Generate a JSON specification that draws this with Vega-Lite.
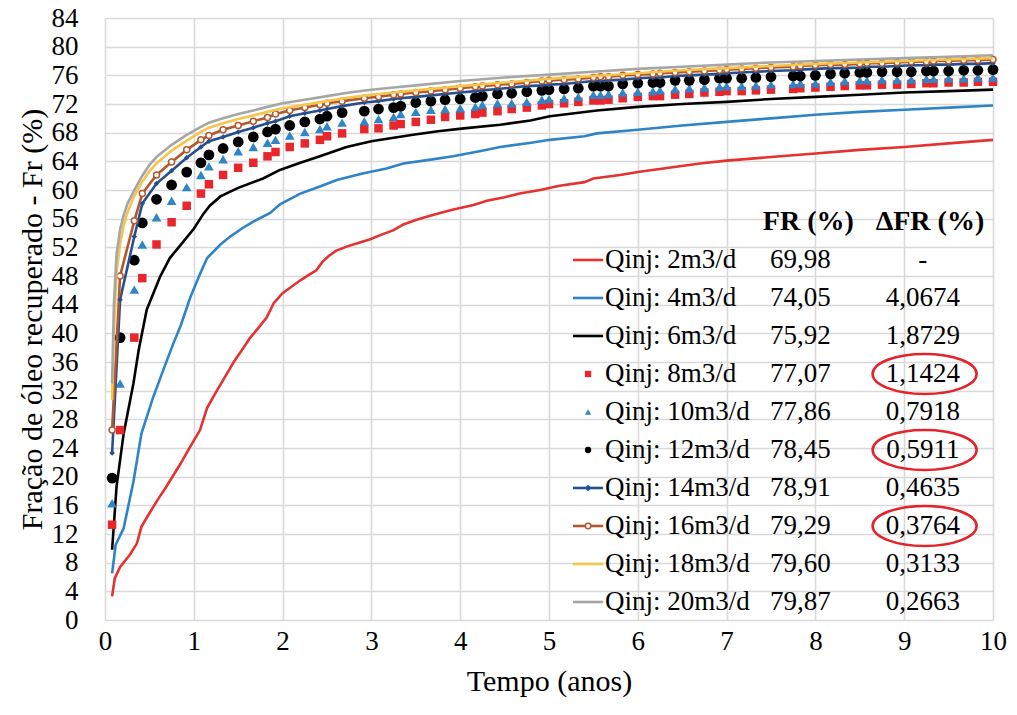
{
  "$schema": "https://vega.github.io/schema/vega-lite/v6.json",
  "width": 888,
  "height": 602,
  "autosize": {"type": "none"},
  "padding": {"left": 105, "top": 18, "right": 24, "bottom": 95},
  "background": "white",
  "config": {
    "font": "Liberation Serif, Times New Roman, DejaVu Serif, serif",
    "view": {"stroke": null},
    "text": {"font": "Liberation Serif, Times New Roman, DejaVu Serif, serif"},
    "axis": {
      "labelFont": "Liberation Serif, Times New Roman, DejaVu Serif, serif",
      "titleFont": "Liberation Serif, Times New Roman, DejaVu Serif, serif",
      "labelFontSize": 27,
      "titleFontSize": 30,
      "titleFontWeight": "normal",
      "labelColor": "#000000",
      "titleColor": "#000000",
      "domain": false,
      "ticks": false,
      "grid": true,
      "gridColor": "#d9d9d9",
      "gridWidth": 1.6,
      "labelFlush": false,
      "labelOverlap": false,
      "labelBound": false
    }
  },
  "datasets": {
    "lines": [
      {"s":"q2","t":0.08,"v":3.3},{"s":"q2","t":0.11,"v":5.8},{"s":"q2","t":0.17,"v":7.4},{"s":"q2","t":0.28,"v":9.1},{"s":"q2","t":0.36,"v":10.7},{"s":"q2","t":0.41,"v":13.0},{"s":"q2","t":0.51,"v":15.1},{"s":"q2","t":0.6,"v":16.9},{"s":"q2","t":0.69,"v":18.6},{"s":"q2","t":0.85,"v":21.8},{"s":"q2","t":0.96,"v":24.2},{"s":"q2","t":1.07,"v":26.5},{"s":"q2","t":1.15,"v":29.6},{"s":"q2","t":1.25,"v":31.8},{"s":"q2","t":1.35,"v":33.9},{"s":"q2","t":1.45,"v":36.0},{"s":"q2","t":1.55,"v":37.8},{"s":"q2","t":1.63,"v":39.3},{"s":"q2","t":1.73,"v":40.8},{"s":"q2","t":1.82,"v":42.2},{"s":"q2","t":1.9,"v":44.2},{"s":"q2","t":2.0,"v":45.6},{"s":"q2","t":2.1,"v":46.5},{"s":"q2","t":2.2,"v":47.4},{"s":"q2","t":2.3,"v":48.2},{"s":"q2","t":2.38,"v":48.8},{"s":"q2","t":2.45,"v":50.0},{"s":"q2","t":2.52,"v":50.8},{"s":"q2","t":2.6,"v":51.5},{"s":"q2","t":2.72,"v":52.1},{"s":"q2","t":2.85,"v":52.6},{"s":"q2","t":2.98,"v":53.1},{"s":"q2","t":3.1,"v":53.7},{"s":"q2","t":3.25,"v":54.4},{"s":"q2","t":3.36,"v":55.2},{"s":"q2","t":3.5,"v":55.8},{"s":"q2","t":3.66,"v":56.4},{"s":"q2","t":3.9,"v":57.2},{"s":"q2","t":4.15,"v":57.9},{"s":"q2","t":4.3,"v":58.5},{"s":"q2","t":4.5,"v":59.0},{"s":"q2","t":4.67,"v":59.5},{"s":"q2","t":4.9,"v":60.0},{"s":"q2","t":5.12,"v":60.6},{"s":"q2","t":5.4,"v":61.1},{"s":"q2","t":5.5,"v":61.6},{"s":"q2","t":5.8,"v":62.1},{"s":"q2","t":6.0,"v":62.5},{"s":"q2","t":6.35,"v":63.1},{"s":"q2","t":6.7,"v":63.7},{"s":"q2","t":7.0,"v":64.1},{"s":"q2","t":7.5,"v":64.6},{"s":"q2","t":8.0,"v":65.1},{"s":"q2","t":8.5,"v":65.6},{"s":"q2","t":9.0,"v":66.0},{"s":"q2","t":9.5,"v":66.5},{"s":"q2","t":10.0,"v":67.0},
      {"s":"q4","t":0.08,"v":6.5},{"s":"q4","t":0.12,"v":10.5},{"s":"q4","t":0.21,"v":12.8},{"s":"q4","t":0.32,"v":19.3},{"s":"q4","t":0.41,"v":26.0},{"s":"q4","t":0.54,"v":31.0},{"s":"q4","t":0.66,"v":35.0},{"s":"q4","t":0.77,"v":38.6},{"s":"q4","t":0.85,"v":41.0},{"s":"q4","t":0.96,"v":45.0},{"s":"q4","t":1.06,"v":48.0},{"s":"q4","t":1.15,"v":50.5},{"s":"q4","t":1.3,"v":52.4},{"s":"q4","t":1.41,"v":53.5},{"s":"q4","t":1.55,"v":54.7},{"s":"q4","t":1.67,"v":55.6},{"s":"q4","t":1.86,"v":56.8},{"s":"q4","t":1.97,"v":58.0},{"s":"q4","t":2.2,"v":59.5},{"s":"q4","t":2.42,"v":60.5},{"s":"q4","t":2.61,"v":61.4},{"s":"q4","t":2.9,"v":62.3},{"s":"q4","t":3.17,"v":63.0},{"s":"q4","t":3.36,"v":63.7},{"s":"q4","t":3.65,"v":64.2},{"s":"q4","t":3.92,"v":64.7},{"s":"q4","t":4.26,"v":65.5},{"s":"q4","t":4.45,"v":66.0},{"s":"q4","t":4.8,"v":66.6},{"s":"q4","t":5.01,"v":67.0},{"s":"q4","t":5.4,"v":67.5},{"s":"q4","t":5.54,"v":67.9},{"s":"q4","t":6.0,"v":68.4},{"s":"q4","t":6.5,"v":69.0},{"s":"q4","t":7.0,"v":69.5},{"s":"q4","t":7.5,"v":70.0},{"s":"q4","t":8.0,"v":70.5},{"s":"q4","t":8.5,"v":70.9},{"s":"q4","t":9.0,"v":71.2},{"s":"q4","t":9.5,"v":71.5},{"s":"q4","t":10.0,"v":71.8},
      {"s":"q6","t":0.08,"v":9.8},{"s":"q6","t":0.13,"v":18.6},{"s":"q6","t":0.21,"v":26.0},{"s":"q6","t":0.32,"v":33.0},{"s":"q6","t":0.38,"v":37.7},{"s":"q6","t":0.47,"v":43.3},{"s":"q6","t":0.62,"v":47.9},{"s":"q6","t":0.73,"v":50.5},{"s":"q6","t":0.85,"v":52.3},{"s":"q6","t":1.0,"v":54.6},{"s":"q6","t":1.11,"v":56.7},{"s":"q6","t":1.18,"v":57.8},{"s":"q6","t":1.3,"v":59.1},{"s":"q6","t":1.5,"v":60.3},{"s":"q6","t":1.78,"v":61.6},{"s":"q6","t":1.97,"v":62.8},{"s":"q6","t":2.2,"v":63.8},{"s":"q6","t":2.42,"v":64.7},{"s":"q6","t":2.72,"v":66.0},{"s":"q6","t":3.0,"v":66.8},{"s":"q6","t":3.25,"v":67.3},{"s":"q6","t":3.47,"v":67.7},{"s":"q6","t":3.75,"v":68.2},{"s":"q6","t":4.04,"v":68.6},{"s":"q6","t":4.45,"v":69.1},{"s":"q6","t":4.79,"v":69.7},{"s":"q6","t":5.01,"v":70.3},{"s":"q6","t":5.54,"v":71.1},{"s":"q6","t":6.0,"v":71.6},{"s":"q6","t":6.5,"v":72.0},{"s":"q6","t":7.0,"v":72.3},{"s":"q6","t":7.5,"v":72.7},{"s":"q6","t":8.0,"v":73.0},{"s":"q6","t":8.5,"v":73.3},{"s":"q6","t":9.0,"v":73.6},{"s":"q6","t":9.5,"v":73.8},{"s":"q6","t":10.0,"v":74.0},
      {"s":"q18","t":0.08,"v":30.7},{"s":"q18","t":0.1,"v":40.0},{"s":"q18","t":0.13,"v":48.5},{"s":"q18","t":0.17,"v":52.5},{"s":"q18","t":0.21,"v":55.0},{"s":"q18","t":0.25,"v":56.8},{"s":"q18","t":0.33,"v":59.2},{"s":"q18","t":0.42,"v":61.2},{"s":"q18","t":0.5,"v":62.6},{"s":"q18","t":0.58,"v":63.7},{"s":"q18","t":0.75,"v":65.5},{"s":"q18","t":0.92,"v":66.9},{"s":"q18","t":1.08,"v":68.1},{"s":"q18","t":1.17,"v":68.7},{"s":"q18","t":1.33,"v":69.3},{"s":"q18","t":1.5,"v":69.9},{"s":"q18","t":1.67,"v":70.4},{"s":"q18","t":1.83,"v":70.9},{"s":"q18","t":2.0,"v":71.4},{"s":"q18","t":2.25,"v":71.9},{"s":"q18","t":2.5,"v":72.4},{"s":"q18","t":2.75,"v":72.9},{"s":"q18","t":3.0,"v":73.3},{"s":"q18","t":3.25,"v":73.6},{"s":"q18","t":3.5,"v":73.9},{"s":"q18","t":4.0,"v":74.5},{"s":"q18","t":4.5,"v":75.0},{"s":"q18","t":5.0,"v":75.5},{"s":"q18","t":5.5,"v":75.9},{"s":"q18","t":6.0,"v":76.3},{"s":"q18","t":6.5,"v":76.7},{"s":"q18","t":7.0,"v":77.0},{"s":"q18","t":7.5,"v":77.3},{"s":"q18","t":8.0,"v":77.6},{"s":"q18","t":8.5,"v":77.8},{"s":"q18","t":9.0,"v":78.0},{"s":"q18","t":9.5,"v":78.2},{"s":"q18","t":10.0,"v":78.4},
      {"s":"q20","t":0.08,"v":33.0},{"s":"q20","t":0.1,"v":44.0},{"s":"q20","t":0.13,"v":51.0},{"s":"q20","t":0.17,"v":54.5},{"s":"q20","t":0.21,"v":56.5},{"s":"q20","t":0.25,"v":58.0},{"s":"q20","t":0.33,"v":60.0},{"s":"q20","t":0.42,"v":62.0},{"s":"q20","t":0.5,"v":63.5},{"s":"q20","t":0.58,"v":64.6},{"s":"q20","t":0.75,"v":66.3},{"s":"q20","t":0.92,"v":67.7},{"s":"q20","t":1.08,"v":68.8},{"s":"q20","t":1.17,"v":69.4},{"s":"q20","t":1.33,"v":70.0},{"s":"q20","t":1.5,"v":70.6},{"s":"q20","t":1.67,"v":71.1},{"s":"q20","t":1.83,"v":71.6},{"s":"q20","t":2.0,"v":72.1},{"s":"q20","t":2.25,"v":72.6},{"s":"q20","t":2.5,"v":73.1},{"s":"q20","t":2.75,"v":73.6},{"s":"q20","t":3.0,"v":74.0},{"s":"q20","t":3.25,"v":74.3},{"s":"q20","t":3.5,"v":74.6},{"s":"q20","t":4.0,"v":75.2},{"s":"q20","t":4.5,"v":75.7},{"s":"q20","t":5.0,"v":76.1},{"s":"q20","t":5.5,"v":76.5},{"s":"q20","t":6.0,"v":76.9},{"s":"q20","t":6.5,"v":77.2},{"s":"q20","t":7.0,"v":77.5},{"s":"q20","t":7.5,"v":77.8},{"s":"q20","t":8.0,"v":78.0},{"s":"q20","t":8.5,"v":78.2},{"s":"q20","t":9.0,"v":78.4},{"s":"q20","t":9.5,"v":78.6},{"s":"q20","t":10.0,"v":78.8}
    ],
    "mk": [
      {"t":0.08,"q8":13.3,"q10":16.3,"q12":19.8,"q14":23.3,"q16":26.5},
      {"t":0.17,"q8":26.5,"q10":33.0,"q12":39.4,"q14":44.7,"q16":48.0},
      {"t":0.33,"q8":39.4,"q10":46.1,"q12":50.2,"q14":53.5,"q16":55.7},
      {"t":0.42,"q8":47.7,"q10":52.4,"q12":55.4,"q14":58.1,"q16":59.5},
      {"t":0.58,"q8":52.4,"q10":56.2,"q12":58.7,"q14":60.9,"q16":62.1},
      {"t":0.75,"q8":55.5,"q10":58.5,"q12":60.7,"q14":62.7,"q16":63.9},
      {"t":0.92,"q8":57.8,"q10":60.4,"q12":62.5,"q14":64.5,"q16":65.6},
      {"t":1.08,"q8":59.5,"q10":62.1,"q12":63.8,"q14":66.0,"q16":67.0},
      {"t":1.17,"q8":60.8,"q10":63.3,"q12":64.9,"q14":66.8,"q16":67.6},
      {"t":1.33,"q8":62.1,"q10":64.3,"q12":65.8,"q14":67.4,"q16":68.4},
      {"t":1.5,"q8":63.1,"q10":65.4,"q12":66.7,"q14":68.1,"q16":69.0},
      {"t":1.67,"q8":63.8,"q10":66.0,"q12":67.4,"q14":68.7,"q16":69.6},
      {"t":1.83,"q8":64.7,"q10":66.6,"q12":68.1,"q14":69.3,"q16":70.1},
      {"t":1.92,"q8":65.3,"q10":67.0,"q12":68.5,"q14":69.6,"q16":70.6},
      {"t":2.08,"q8":66.0,"q10":67.6,"q12":69.0,"q14":70.3,"q16":71.1},
      {"t":2.25,"q8":66.5,"q10":68.1,"q12":69.5,"q14":70.7,"q16":71.5},
      {"t":2.42,"q8":67.0,"q10":68.5,"q12":69.9,"q14":71.1,"q16":71.9},
      {"t":2.5,"q8":67.5,"q10":68.9,"q12":70.3,"q14":71.3,"q16":72.1},
      {"t":2.67,"q8":67.9,"q10":69.4,"q12":70.8,"q14":71.7,"q16":72.4},
      {"t":2.92,"q8":68.5,"q10":69.6,"q12":71.0,"q14":72.2,"q16":72.8},
      {"t":3.08,"q8":68.6,"q10":69.9,"q12":71.3,"q14":72.4,"q16":73.0},
      {"t":3.25,"q8":69.0,"q10":70.2,"q12":71.5,"q14":72.7,"q16":73.3},
      {"t":3.33,"q8":69.2,"q10":70.6,"q12":71.7,"q14":72.8,"q16":73.4},
      {"t":3.5,"q8":69.5,"q10":70.9,"q12":72.2,"q14":73.0,"q16":73.6},
      {"t":3.67,"q8":69.8,"q10":71.2,"q12":72.4,"q14":73.2,"q16":73.8},
      {"t":3.83,"q8":70.2,"q10":71.3,"q12":72.6,"q14":73.4,"q16":74.0},
      {"t":4.0,"q8":70.4,"q10":71.4,"q12":72.7,"q14":73.6,"q16":74.2},
      {"t":4.17,"q8":70.6,"q10":71.6,"q12":72.9,"q14":73.8,"q16":74.4},
      {"t":4.25,"q8":70.8,"q10":71.9,"q12":73.1,"q14":73.9,"q16":74.5},
      {"t":4.42,"q8":71.0,"q10":72.1,"q12":73.4,"q14":74.1,"q16":74.7},
      {"t":4.58,"q8":71.3,"q10":72.1,"q12":73.5,"q14":74.3,"q16":74.8},
      {"t":4.75,"q8":71.5,"q10":72.3,"q12":73.7,"q14":74.5,"q16":75.0},
      {"t":4.92,"q8":71.8,"q10":72.6,"q12":73.9,"q14":74.6,"q16":75.2},
      {"t":5.0,"q8":72.0,"q10":72.7,"q12":74.0,"q14":74.7,"q16":75.3},
      {"t":5.17,"q8":72.1,"q10":72.8,"q12":74.1,"q14":74.8,"q16":75.4},
      {"t":5.33,"q8":72.3,"q10":73.0,"q12":74.2,"q14":75.0,"q16":75.5},
      {"t":5.5,"q8":72.5,"q10":73.3,"q12":74.5,"q14":75.2,"q16":75.7},
      {"t":5.58,"q8":72.5,"q10":73.3,"q12":74.5,"q14":75.2,"q16":75.8},
      {"t":5.67,"q8":72.6,"q10":73.4,"q12":74.5,"q14":75.3,"q16":75.8},
      {"t":5.83,"q8":72.8,"q10":73.6,"q12":74.8,"q14":75.4,"q16":76.0},
      {"t":6.0,"q8":73.0,"q10":73.7,"q12":74.9,"q14":75.6,"q16":76.1},
      {"t":6.17,"q8":73.1,"q10":73.8,"q12":75.0,"q14":75.7,"q16":76.2},
      {"t":6.25,"q8":73.1,"q10":73.9,"q12":75.0,"q14":75.7,"q16":76.3},
      {"t":6.42,"q8":73.3,"q10":74.1,"q12":75.3,"q14":75.9,"q16":76.4},
      {"t":6.58,"q8":73.4,"q10":74.2,"q12":75.3,"q14":76.0,"q16":76.5},
      {"t":6.75,"q8":73.6,"q10":74.3,"q12":75.4,"q14":76.1,"q16":76.6},
      {"t":6.92,"q8":73.7,"q10":74.4,"q12":75.6,"q14":76.2,"q16":76.7},
      {"t":7.0,"q8":73.8,"q10":74.5,"q12":75.6,"q14":76.3,"q16":76.8},
      {"t":7.17,"q8":73.8,"q10":74.5,"q12":75.6,"q14":76.4,"q16":76.9},
      {"t":7.33,"q8":73.9,"q10":74.6,"q12":75.7,"q14":76.5,"q16":77.0},
      {"t":7.5,"q8":74.0,"q10":74.7,"q12":75.8,"q14":76.6,"q16":77.1},
      {"t":7.75,"q8":74.1,"q10":74.8,"q12":75.9,"q14":76.7,"q16":77.2},
      {"t":7.83,"q8":74.2,"q10":74.9,"q12":75.9,"q14":76.8,"q16":77.3},
      {"t":8.0,"q8":74.3,"q10":74.9,"q12":76.0,"q14":76.9,"q16":77.4},
      {"t":8.17,"q8":74.4,"q10":75.1,"q12":76.2,"q14":77.0,"q16":77.5},
      {"t":8.33,"q8":74.5,"q10":75.2,"q12":76.3,"q14":77.0,"q16":77.5},
      {"t":8.5,"q8":74.6,"q10":75.3,"q12":76.4,"q14":77.1,"q16":77.6},
      {"t":8.58,"q8":74.6,"q10":75.3,"q12":76.4,"q14":77.2,"q16":77.7},
      {"t":8.75,"q8":74.7,"q10":75.4,"q12":76.5,"q14":77.2,"q16":77.7},
      {"t":8.92,"q8":74.7,"q10":75.4,"q12":76.5,"q14":77.3,"q16":77.8},
      {"t":9.08,"q8":74.8,"q10":75.4,"q12":76.5,"q14":77.4,"q16":77.9},
      {"t":9.25,"q8":74.9,"q10":75.5,"q12":76.6,"q14":77.4,"q16":77.9},
      {"t":9.33,"q8":74.9,"q10":75.5,"q12":76.6,"q14":77.5,"q16":78.0},
      {"t":9.5,"q8":75.0,"q10":75.6,"q12":76.6,"q14":77.5,"q16":78.0},
      {"t":9.67,"q8":75.0,"q10":75.6,"q12":76.7,"q14":77.6,"q16":78.1},
      {"t":9.83,"q8":75.1,"q10":75.7,"q12":76.7,"q14":77.6,"q16":78.1},
      {"t":10.0,"q8":75.1,"q10":75.7,"q12":76.8,"q14":77.7,"q16":78.2}
    ],
    "leg": [
      {"row":1,"s":"q2","label":"Qinj: 2m3/d","fr":"69,98","dfr":"-"},
      {"row":2,"s":"q4","label":"Qinj: 4m3/d","fr":"74,05","dfr":"4,0674"},
      {"row":3,"s":"q6","label":"Qinj: 6m3/d","fr":"75,92","dfr":"1,8729"},
      {"row":4,"s":"q8","label":"Qinj: 8m3/d","fr":"77,07","dfr":"1,1424"},
      {"row":5,"s":"q10","label":"Qinj: 10m3/d","fr":"77,86","dfr":"0,7918"},
      {"row":6,"s":"q12","label":"Qinj: 12m3/d","fr":"78,45","dfr":"0,5911"},
      {"row":7,"s":"q14","label":"Qinj: 14m3/d","fr":"78,91","dfr":"0,4635"},
      {"row":8,"s":"q16","label":"Qinj: 16m3/d","fr":"79,29","dfr":"0,3764"},
      {"row":9,"s":"q18","label":"Qinj: 18m3/d","fr":"79,60","dfr":"0,3133"},
      {"row":10,"s":"q20","label":"Qinj: 20m3/d","fr":"79,87","dfr":"0,2663"}
    ]
  },
  "resolve": {"scale": {"y": "independent"}},
  "layer": [
    {
      "encoding": {
        "x": {"field": "t", "type": "quantitative",
              "scale": {"domain": [0, 10], "nice": false, "zero": false},
              "axis": {"values": [0,1,2,3,4,5,6,7,8,9,10], "format": "d", "title": "Tempo (anos)", "labelPadding": 8, "titlePadding": 12}},
        "y": {"field": "v", "type": "quantitative",
              "scale": {"domain": [0, 84], "nice": false},
              "axis": {"values": [0,4,8,12,16,20,24,28,32,36,40,44,48,52,56,60,64,68,72,76,80,84], "format": "d", "title": "Fração de óleo recuperado - Fr (%)", "labelPadding": 27, "titlePadding": 4}}
      },
      "layer": [
        {
          "data": {"values": [{}]},
          "mark": {"type": "rect", "fill": "#ffffff", "stroke": "#d9d9d9", "strokeWidth": 1.5},
          "encoding": {
            "x": {"datum": 5.12, "type": "quantitative"},
            "x2": {"datum": 10},
            "y": {"datum": 0, "type": "quantitative"},
            "y2": {"datum": 60}
          }
        },
        {
          "data": {"name": "lines"},
          "transform": [{"filter": {"field": "s", "oneOf": ["q2", "q4", "q6"]}}],
          "mark": {"type": "line", "strokeWidth": 2.6},
          "encoding": {
            "color": {"field": "s", "type": "nominal", "legend": null,
              "scale": {"domain": ["q2","q4","q6","q8","q10","q12","q14","q16","q18","q20"], "range": ["#e5312f","#2e84c6","#000000","#e8262b","#2e86c8","#000000","#24508f","#b4572c","#f4c54a","#a6a6a6"]}}
          }
        },
        {
          "data": {"name": "mk"},
          "transform": [{"fold": ["q8", "q10", "q12"], "as": ["s", "v"]}],
          "mark": {"type": "point", "filled": true, "opacity": 1},
          "encoding": {
            "color": {"field": "s", "type": "nominal", "legend": null,
              "scale": {"domain": ["q2","q4","q6","q8","q10","q12","q14","q16","q18","q20"], "range": ["#e5312f","#2e84c6","#000000","#e8262b","#2e86c8","#000000","#24508f","#b4572c","#f4c54a","#a6a6a6"]}},
            "shape": {"field": "s", "type": "nominal", "legend": null,
              "scale": {"domain": ["q8","q10","q12","q14","q16"], "range": ["square","triangle-up","circle","diamond","circle"]}},
            "size": {"field": "s", "type": "nominal", "legend": null,
              "scale": {"domain": ["q8","q10","q12","q14","q16"], "range": [72, 160, 95, 30, 40]}}
          }
        },
        {
          "data": {"name": "mk"},
          "transform": [{"fold": ["q14", "q16"], "as": ["s", "v"]}],
          "mark": {"type": "line", "strokeWidth": 2.6},
          "encoding": {
            "color": {"field": "s", "type": "nominal", "legend": null,
              "scale": {"domain": ["q2","q4","q6","q8","q10","q12","q14","q16","q18","q20"], "range": ["#e5312f","#2e84c6","#000000","#e8262b","#2e86c8","#000000","#24508f","#b4572c","#f4c54a","#a6a6a6"]}}
          }
        },
        {
          "data": {"name": "mk"},
          "transform": [{"fold": ["q14"], "as": ["s", "v"]}],
          "mark": {"type": "point", "filled": true, "shape": "diamond", "size": 30, "color": "#24508f", "opacity": 1}
        },
        {
          "data": {"name": "mk"},
          "transform": [{"fold": ["q16"], "as": ["s", "v"]}],
          "mark": {"type": "point", "shape": "circle", "size": 36, "fill": "#ffffff", "stroke": "#b4572c", "strokeWidth": 1.5, "opacity": 1, "fillOpacity": 1}
        },
        {
          "data": {"name": "lines"},
          "transform": [{"filter": {"field": "s", "oneOf": ["q18", "q20"]}}],
          "mark": {"type": "line", "strokeWidth": 2.6},
          "encoding": {
            "color": {"field": "s", "type": "nominal", "legend": null,
              "scale": {"domain": ["q2","q4","q6","q8","q10","q12","q14","q16","q18","q20"], "range": ["#e5312f","#2e84c6","#000000","#e8262b","#2e86c8","#000000","#24508f","#b4572c","#f4c54a","#a6a6a6"]}}
          }
        }
      ]
    },
    {
      "data": {"name": "leg"},
      "encoding": {
        "y": {"field": "row", "type": "quantitative", "axis": null,
              "scale": {"domain": [-5.368, 10.474], "reverse": true, "nice": false, "zero": false}}
      },
      "layer": [
        {
          "data": {"values": [{"row": 0}]},
          "mark": {"type": "text", "text": "FR (%)", "fontSize": 28, "fontWeight": "bold", "align": "center", "baseline": "middle", "color": "#000000"},
          "encoding": {"x": {"datum": 7.92, "type": "quantitative"}}
        },
        {
          "data": {"values": [{"row": 0}]},
          "mark": {"type": "text", "text": "ΔFR (%)", "fontSize": 28, "fontWeight": "bold", "align": "center", "baseline": "middle", "color": "#000000"},
          "encoding": {"x": {"datum": 9.29, "type": "quantitative"}}
        },
        {
          "mark": {"type": "text", "fontSize": 27, "align": "left", "baseline": "middle", "color": "#000000"},
          "encoding": {"x": {"datum": 5.63, "type": "quantitative"}, "text": {"field": "label"}}
        },
        {
          "mark": {"type": "text", "fontSize": 27, "align": "center", "baseline": "middle", "color": "#000000"},
          "encoding": {"x": {"datum": 7.83, "type": "quantitative"}, "text": {"field": "fr"}}
        },
        {
          "mark": {"type": "text", "fontSize": 27, "align": "center", "baseline": "middle", "color": "#000000"},
          "encoding": {"x": {"datum": 9.21, "type": "quantitative"}, "text": {"field": "dfr"}}
        },
        {
          "transform": [{"filter": {"field": "s", "oneOf": ["q2","q4","q6","q14","q16","q18","q20"]}}],
          "mark": {"type": "rule", "strokeWidth": 2.6},
          "encoding": {
            "x": {"datum": 5.27, "type": "quantitative"},
            "x2": {"datum": 5.61},
            "color": {"field": "s", "type": "nominal", "legend": null,
              "scale": {"domain": ["q2","q4","q6","q8","q10","q12","q14","q16","q18","q20"], "range": ["#e5312f","#2e84c6","#000000","#e8262b","#2e86c8","#000000","#24508f","#b4572c","#f4c54a","#a6a6a6"]}}
          }
        },
        {
          "transform": [{"filter": {"field": "s", "oneOf": ["q8","q10","q12","q14"]}}],
          "mark": {"type": "point", "filled": true, "opacity": 1, "size": 40},
          "encoding": {
            "x": {"datum": 5.44, "type": "quantitative"},
            "color": {"field": "s", "type": "nominal", "legend": null,
              "scale": {"domain": ["q2","q4","q6","q8","q10","q12","q14","q16","q18","q20"], "range": ["#e5312f","#2e84c6","#000000","#e8262b","#2e86c8","#000000","#24508f","#b4572c","#f4c54a","#a6a6a6"]}},
            "shape": {"field": "s", "type": "nominal", "legend": null,
              "scale": {"domain": ["q8","q10","q12","q14","q16"], "range": ["square","triangle-up","circle","diamond","circle"]}}
          }
        },
        {
          "transform": [{"filter": {"field": "s", "equal": "q16"}}],
          "mark": {"type": "point", "shape": "circle", "size": 30, "fill": "#ffffff", "stroke": "#b4572c", "strokeWidth": 1.5, "opacity": 1, "fillOpacity": 1},
          "encoding": {"x": {"datum": 5.44, "type": "quantitative"}}
        },
        {
          "transform": [{"filter": {"field": "s", "oneOf": ["q8","q12","q16"]}}],
          "mark": {"type": "point", "shape": "M-1,0A1,0.385,0,1,1,1,0A1,0.385,0,1,1,-1,0Z", "size": 10816, "filled": false, "stroke": "#e3242b", "strokeWidth": 2.6, "opacity": 1},
          "encoding": {"x": {"datum": 9.23, "type": "quantitative"}}
        }
      ]
    }
  ]
}
